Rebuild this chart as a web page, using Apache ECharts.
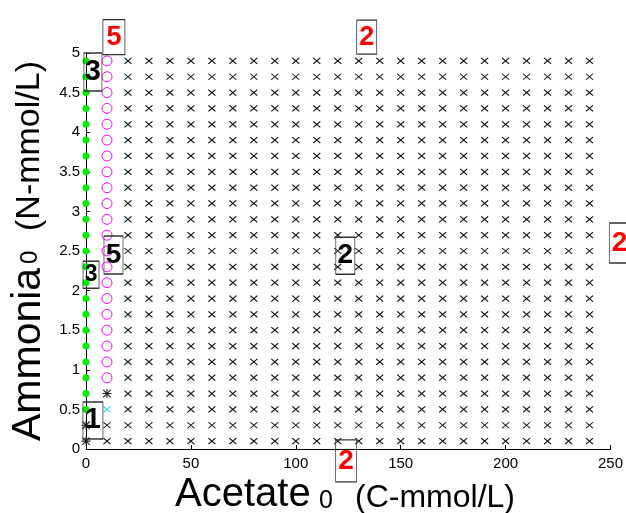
<!DOCTYPE html>
<html>
<head>
<meta charset="utf-8">
<script src="https://cdn.jsdelivr.net/npm/echarts@6/dist/echarts.min.js"></script>
<style>
  html, body { margin: 0; padding: 0; background: #ffffff; }
  #main { width: 626px; height: 513px; }
</style>
</head>
<body>
<div id="main"></div>
<script>
// Initial concentrations tested (grid of simulation runs)
const acetateLevels = [0, 10, 20, 30, 40, 50, 60, 70, 80, 90, 100, 110, 120, 130, 140, 150, 160, 170, 180, 190, 200, 210, 220, 230, 240];
const ammoniaLevels = [0.1, 0.3, 0.5, 0.7, 0.9, 1.1, 1.3, 1.5, 1.7, 1.9, 2.1, 2.3, 2.5, 2.7, 2.9, 3.1, 3.3, 3.5, 3.7, 3.9, 4.1, 4.3, 4.5, 4.7, 4.9];

// Outcome per run, one character per ammonia level (lowest first):
// g = green dot, m = magenta circle, x = black cross, s = star, c = cyan cross
const columnOutcomes = {
  0:  'ssggggggggggggggggggggggg',
  10: 'xxcsmmmmmmmmmmmmmmmmmmmmm'
};
const defaultOutcome = 'x';

// Region labels
const annotationText   = ['5', '2', '3', '5', '3', '2', '2', '1', '2'];
const annotationTone   = ['red', 'red', 'black', 'black', 'black', 'black', 'red', 'black', 'red'];
const annotationAcetate = [13.3, 133.8, 3.3, 13.1, 2.4, 123.6, 254.3, 3.3, 124.0];
const annotationAmmonia = [5.20, 5.20, 4.76, 2.45, 2.20, 2.44, 2.60, 0.36, -0.15];

// Axis ticks
const xTicks = [0, 50, 100, 150, 200, 250];
const yTicks = [0, 0.5, 1, 1.5, 2, 2.5, 3, 3.5, 4, 4.5, 5];

// ---- styling ----
const FONT = 'Arial, "Liberation Sans", Helvetica, sans-serif';
const boxSizes = [[22, 35], [20, 34], [18, 38], [19, 38], [16, 27], [19, 37], [20, 40], [20, 37], [21, 42]];
const boxFont  = [27, 27, 29, 28, 23, 28, 28, 29, 28];
const toneColor = { red: '#ff0000', black: '#000000' };

const X_PATH = 'path://M0,0L10,10M10,0L0,10';
const STAR_PATH = 'path://M0,0L10,10M10,0L0,10M5,-1L5,11M-1,5L11,5';

const groups = { g: [], m: [], x: [], s: [], c: [] };
acetateLevels.forEach(function (a) {
  const codes = columnOutcomes[a];
  ammoniaLevels.forEach(function (n, i) {
    const code = codes ? codes.charAt(i) : defaultOutcome;
    groups[code].push([a, n]);
  });
});

const annotationData = annotationText.map(function (t, i) {
  return {
    name: t,
    value: [annotationAcetate[i], annotationAmmonia[i]],
    symbolSize: boxSizes[i],
    label: { color: toneColor[annotationTone[i]], fontSize: boxFont[i] }
  };
});

const chart = echarts.init(document.getElementById('main'), null, { renderer: 'canvas' });

chart.setOption({
  animation: false,
  backgroundColor: '#ffffff',
  grid: { left: 86, right: 15, top: 53, bottom: 64, containLabel: false },
  xAxis: {
    type: 'value',
    min: xTicks[0],
    max: xTicks[xTicks.length - 1],
    interval: xTicks[1] - xTicks[0],
    axisLine: { show: true, onZero: false, lineStyle: { color: '#000', width: 1 } },
    axisTick: { show: true, inside: true, length: 4, lineStyle: { color: '#000' } },
    axisLabel: { color: '#000', fontSize: 15, fontFamily: FONT, margin: 7 },
    splitLine: { show: false }
  },
  yAxis: {
    type: 'value',
    min: yTicks[0],
    max: yTicks[yTicks.length - 1],
    interval: yTicks[1] - yTicks[0],
    axisLine: { show: true, onZero: false, lineStyle: { color: '#000', width: 1 } },
    axisTick: { show: true, inside: true, length: 4, lineStyle: { color: '#000' } },
    axisLabel: { color: '#000', fontSize: 15, fontFamily: FONT, margin: 6 },
    splitLine: { show: false }
  },
  series: [
    {
      type: 'scatter', name: 'crosses', data: groups.x,
      symbol: X_PATH, symbolSize: [7, 6],
      itemStyle: { color: '#000', borderColor: '#111', borderWidth: 1.1, opacity: 1 },
      silent: true
    },
    {
      type: 'scatter', name: 'circles', data: groups.m,
      symbol: 'circle', symbolSize: 10,
      itemStyle: { color: 'rgba(0,0,0,0)', borderColor: '#ff00ff', borderWidth: 1, opacity: 1 },
      silent: true
    },
    {
      type: 'scatter', name: 'dots', data: groups.g,
      symbol: 'circle', symbolSize: 7,
      itemStyle: { color: '#00f000', opacity: 1 },
      silent: true
    },
    {
      type: 'scatter', name: 'stars', data: groups.s,
      symbol: STAR_PATH, symbolSize: 9,
      itemStyle: { color: '#222', borderColor: '#222', borderWidth: 1.1, opacity: 1 },
      silent: true
    },
    {
      type: 'scatter', name: 'cyan', data: groups.c,
      symbol: X_PATH, symbolSize: [7, 6],
      itemStyle: { color: '#33ddee', borderColor: '#33ddee', borderWidth: 1.1, opacity: 1 },
      silent: true
    },
    {
      type: 'scatter', name: 'regions', data: annotationData,
      clip: false, silent: true, z: 5,
      symbol: 'rect',
      itemStyle: { color: 'rgba(255,255,255,0)', borderColor: '#333', borderWidth: 1, opacity: 1 },
      label: {
        show: true, position: 'inside', formatter: '{b}',
        fontWeight: 'bold', fontFamily: FONT,
        textBorderWidth: 0, textBorderColor: 'transparent', opacity: 1
      }
    }
  ],
  graphic: [
    // x-axis title
    { type: 'text', left: 175, top: 475, style: { text: 'Acetate', font: '40px ' + FONT, fill: '#000' } },
    { type: 'text', left: 319, top: 489, style: { text: '0', font: '25px ' + FONT, fill: '#000' } },
    { type: 'text', left: 355, top: 482, style: { text: '(C-mmol/L)', font: '32px ' + FONT, fill: '#000' } },
    // y-axis title (rotated, reading upward)
    { type: 'text', x: 49, y: 441, rotation: Math.PI / 2,
      style: { text: 'Ammonia', font: '41px ' + FONT, fill: '#000', align: 'left', verticalAlign: 'bottom' } },
    { type: 'text', x: 42, y: 264, rotation: Math.PI / 2,
      style: { text: '0', font: '24px ' + FONT, fill: '#000', align: 'left', verticalAlign: 'bottom' } },
    { type: 'text', x: 47, y: 231, rotation: Math.PI / 2,
      style: { text: '(N-mmol/L)', font: '34px ' + FONT, fill: '#000', align: 'left', verticalAlign: 'bottom' } }
  ]
});
</script>
</body>
</html>
